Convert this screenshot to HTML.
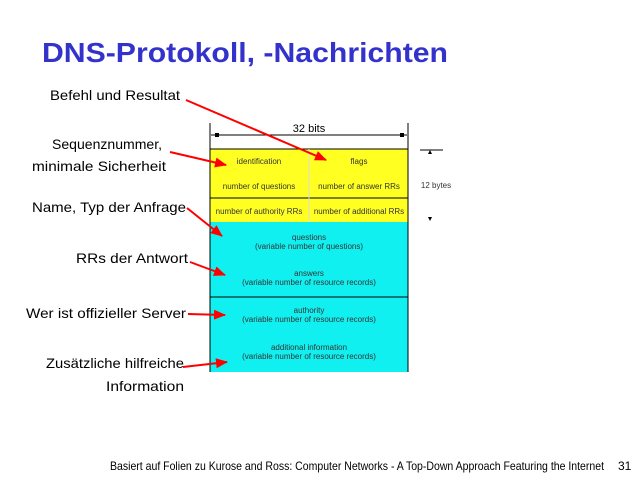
<!DOCTYPE html>
<html><head><style>body{margin:0;background:#fff}svg{display:block}</style></head><body>
<svg width="640" height="480" xmlns="http://www.w3.org/2000/svg" font-family="Liberation Sans, sans-serif">
<defs><marker id="a" markerWidth="12" markerHeight="10" refX="11" refY="5" orient="auto" markerUnits="userSpaceOnUse"><path d="M0,0 L12,5 L0,10 z" fill="#f00"/></marker></defs>
<text x="42" y="62" font-size="28" font-weight="bold" fill="#3333cc" textLength="406" lengthAdjust="spacingAndGlyphs">DNS-Protokoll, -Nachrichten</text>
<g font-size="14" fill="#000">
<text x="50" y="100" textLength="130" lengthAdjust="spacingAndGlyphs">Befehl und Resultat</text>
<text x="52" y="149" textLength="110" lengthAdjust="spacingAndGlyphs">Sequenznummer,</text>
<text x="32" y="171" textLength="134" lengthAdjust="spacingAndGlyphs">minimale Sicherheit</text>
<text x="32" y="212" textLength="154" lengthAdjust="spacingAndGlyphs">Name, Typ der Anfrage</text>
<text x="76" y="263" textLength="112" lengthAdjust="spacingAndGlyphs">RRs der Antwort</text>
<text x="26" y="318" textLength="160" lengthAdjust="spacingAndGlyphs">Wer ist offizieller Server</text>
<text x="46" y="368" textLength="138" lengthAdjust="spacingAndGlyphs">Zusätzliche hilfreiche</text>
<text x="106" y="391" textLength="78" lengthAdjust="spacingAndGlyphs">Information</text>
</g>
<rect x="210" y="149" width="198" height="73" fill="#ffff22"/>
<rect x="210" y="222" width="198" height="150" fill="#11f0f0"/>
<g stroke="#000" fill="none">
<path d="M210,372 V149 H408 V372"/>
<line x1="210" y1="198" x2="408" y2="198"/>
<line x1="210" y1="297" x2="408" y2="297"/>
<line x1="210" y1="123" x2="210" y2="149"/><line x1="408" y1="123" x2="408" y2="149"/>
<line x1="211" y1="135" x2="407" y2="135"/>
<line x1="420" y1="150" x2="443" y2="150"/>
</g>
<rect x="215" y="133" width="4" height="4" fill="#000"/><rect x="400" y="133" width="4" height="4" fill="#000"/>
<path d="M430,150 l-2,4 h4 z M430,221 l-2,-4 h4 z" fill="#000"/>
<line x1="309" y1="149" x2="309" y2="222" stroke="#ddd"/>
<text x="309" y="132" font-size="11" text-anchor="middle">32 bits</text>
<g font-size="8" fill="#333" text-anchor="middle">
<text x="259" y="164">identification</text><text x="359" y="164">flags</text>
<text x="259" y="189">number of questions</text><text x="359" y="189">number of answer RRs</text>
<text x="259" y="214">number of authority RRs</text><text x="359" y="214">number of additional RRs</text>
<text x="309" y="240">questions</text><text x="309" y="249">(variable number of questions)</text>
<text x="309" y="276">answers</text><text x="309" y="285">(variable number of resource records)</text>
<text x="309" y="313">authority</text><text x="309" y="322">(variable number of resource records)</text>
<text x="309" y="350">additional information</text><text x="309" y="359">(variable number of resource records)</text>
<text x="436" y="188">12 bytes</text>
</g>
<g stroke="#f00" stroke-width="2" marker-end="url(#a)">
<line x1="186" y1="100" x2="326" y2="160"/>
<line x1="170" y1="152" x2="226" y2="165"/>
<line x1="187" y1="208" x2="222" y2="236"/>
<line x1="190" y1="262" x2="225" y2="275"/>
<line x1="188" y1="314" x2="225" y2="315"/>
<line x1="183" y1="367" x2="227" y2="362"/>
</g>
<g font-size="12" fill="#000">
<text x="110" y="470" textLength="494" lengthAdjust="spacingAndGlyphs">Basiert auf Folien zu Kurose and Ross: Computer Networks - A Top-Down Approach Featuring the Internet</text>
<text x="618" y="470">31</text>
</g>
</svg>
</body></html>
